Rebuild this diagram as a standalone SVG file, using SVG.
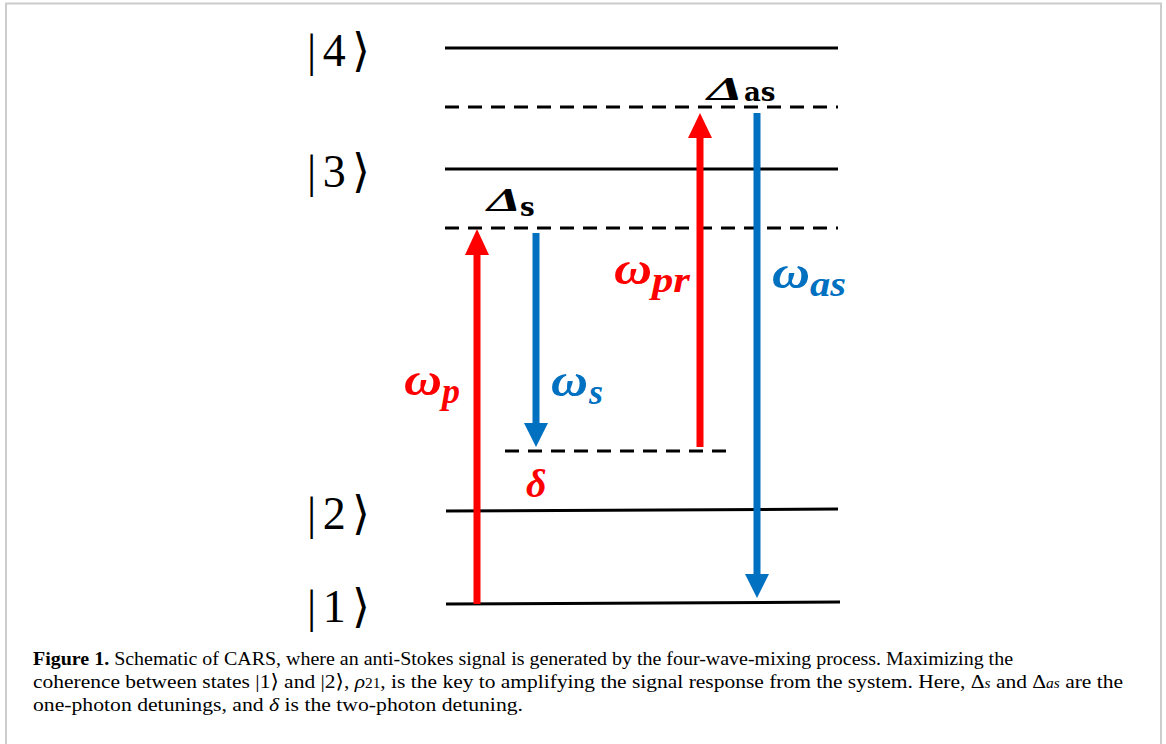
<svg xmlns="http://www.w3.org/2000/svg" width="1166" height="744" viewBox="0 0 1166 744">
<defs>
<style>
.lvl{stroke:#000;stroke-width:3;fill:none}
.dash{stroke:#000;stroke-width:3;fill:none;stroke-dasharray:14 9}
.ket{font-family:"Liberation Serif","DejaVu Serif",serif;font-size:46px;fill:#000}
.red{fill:#ff0000}
.blue{fill:#0070c0}
.rs{stroke:#ff0000;stroke-width:7}
.bs{stroke:#0070c0;stroke-width:7}
.om{font-family:"Liberation Serif","DejaVu Serif",serif;font-weight:bold;font-style:italic}
.sub{font-family:"DejaVu Serif","Liberation Serif",serif;font-weight:bold;fill:#000}
.cap{font-family:"Liberation Serif","DejaVu Serif",serif;font-size:19.5px;fill:#000}
</style>
</defs>
<rect x="0" y="0" width="1166" height="744" fill="#fff"/>
<rect x="6" y="3.5" width="1155" height="760" fill="none" stroke="#cccccc" stroke-width="2"/>

<g id="level4"><line class="lvl" x1="445" y1="48" x2="838" y2="48"/><text class="ket" x="307" y="66" textLength="63" lengthAdjust="spacing">|4⟩</text></g>
<g id="virtual-as"><line class="dash" x1="445" y1="107" x2="838" y2="107"/>
<text class="om" x="707" y="100" font-size="34" fill="#000" textLength="36" lengthAdjust="spacingAndGlyphs">Δ</text><text class="sub" x="744" y="101" font-size="26">as</text></g>
<g id="level3"><line class="lvl" x1="445" y1="169" x2="838" y2="169"/><text class="ket" x="307" y="187" textLength="63" lengthAdjust="spacing">|3⟩</text></g>
<g id="virtual-s"><line class="dash" x1="445" y1="228" x2="838" y2="228"/>
<text class="om" x="487" y="211" font-size="34" fill="#000" textLength="34" lengthAdjust="spacingAndGlyphs">Δ</text><text class="sub" x="520" y="216" font-size="26">s</text></g>
<g id="virtual-delta"><line class="dash" x1="505" y1="451" x2="730" y2="451"/>
<text class="om red" x="526" y="497" font-size="40">δ</text></g>
<g id="level2"><line class="lvl" x1="446" y1="511" x2="838" y2="509"/><text class="ket" x="307" y="529" textLength="63" lengthAdjust="spacing">|2⟩</text></g>
<g id="level1"><line class="lvl" x1="446" y1="604" x2="840" y2="602"/><text class="ket" x="307" y="622" textLength="63" lengthAdjust="spacing">|1⟩</text></g>

<g id="connectors">
<g id="pump"><line class="rs" x1="477" y1="604" x2="477" y2="252"/><polygon class="red" points="477,229 465,255 489,255"/>
<text class="om red" x="404" y="395" font-size="46" textLength="38" lengthAdjust="spacingAndGlyphs">ω</text><text class="om red" x="442" y="403" font-size="36">p</text></g>
<g id="stokes"><line class="bs" x1="536" y1="233" x2="536" y2="426"/><polygon class="blue" points="536,447 524,423 548,423"/>
<text class="om blue" x="551" y="396" font-size="46" textLength="37" lengthAdjust="spacingAndGlyphs">ω</text><text class="om blue" x="589" y="404" font-size="36">s</text></g>
<g id="probe"><line class="rs" x1="700" y1="447" x2="700" y2="135"/><polygon class="red" points="700,113 688,138 712,138"/>
<text class="om red" x="614" y="284" font-size="46" textLength="38" lengthAdjust="spacingAndGlyphs">ω</text><text class="om red" x="652" y="292" font-size="36" textLength="38" lengthAdjust="spacingAndGlyphs">pr</text></g>
<g id="antistokes"><line class="bs" x1="757" y1="113" x2="757" y2="577"/><polygon class="blue" points="757,598 745,574 769,574"/>
<text class="om blue" x="772" y="288" font-size="46" textLength="38" lengthAdjust="spacingAndGlyphs">ω</text><text class="om blue" x="810" y="296" font-size="36" textLength="36" lengthAdjust="spacingAndGlyphs">as</text></g>
</g>

<g id="caption">
<text class="cap" x="33" y="665" textLength="980" lengthAdjust="spacingAndGlyphs"><tspan font-weight="bold">Figure 1.</tspan> Schematic of CARS, where an anti-Stokes signal is generated by the four-wave-mixing process. Maximizing the</text>
<text class="cap" x="33" y="688" textLength="1090" lengthAdjust="spacingAndGlyphs">coherence between states |1⟩ and |2⟩, <tspan font-style="italic">ρ</tspan><tspan font-size="14">21</tspan>, is the key to amplifying the signal response from the system. Here, Δ<tspan font-style="italic" font-size="14">s</tspan> and Δ<tspan font-style="italic" font-size="14">as</tspan> are the</text>
<text class="cap" x="33" y="711" textLength="490" lengthAdjust="spacingAndGlyphs">one-photon detunings, and <tspan font-style="italic">δ</tspan> is the two-photon detuning.</text>
</g>
</svg>
